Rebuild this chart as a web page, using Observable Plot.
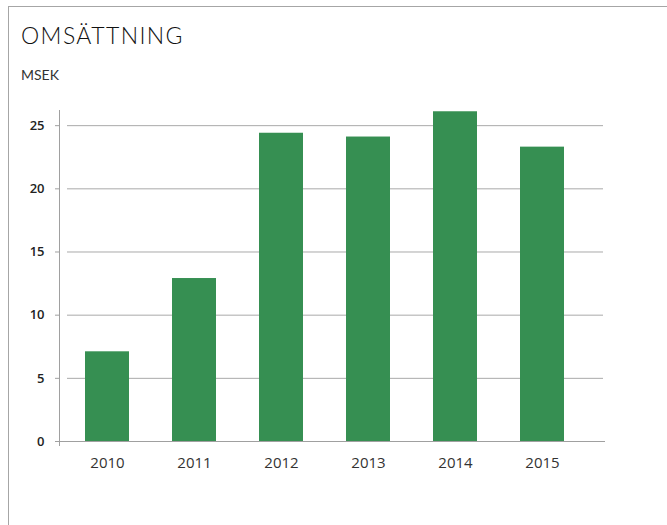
<!DOCTYPE html>
<html><head><meta charset="utf-8">
<script src="https://cdn.jsdelivr.net/npm/d3@7"></script>
<script src="https://cdn.jsdelivr.net/npm/@observablehq/plot@0.6"></script>
<style>
html,body{margin:0;padding:0;background:#fff}
body{width:667px;height:525px;overflow:hidden;position:relative;font-family:Lato,sans-serif}
#frame{position:absolute;left:8px;top:6px;right:-2px;bottom:-2px;border-left:1px solid #a6a6a6;border-top:1px solid #a6a6a6}
#title{position:absolute;left:21px;top:24px;font-size:23px;font-weight:300;letter-spacing:1.4px;line-height:1;color:#111;white-space:nowrap}
#sub{position:absolute;left:21px;top:68px;font-size:14px;font-weight:400;line-height:1;color:#333;white-space:nowrap}
#chart{position:absolute;left:0;top:90px}
</style></head>
<body>
<div id="frame"></div>
<div id="title">OMSÄTTNING</div>
<div id="sub">MSEK</div>
<div id="chart"></div>
<script>
const years = ["2010", "2011", "2012", "2013", "2014", "2015"];
const values = [7.1, 12.9, 24.4, 24.1, 26.1, 23.3];
const yTicks = [0, 5, 10, 15, 20, 25];

const data = years.map((year, i) => ({year, value: values[i]}));

const chart = Plot.plot({
  width: 667,
  height: 435,
  marginLeft: 59,
  marginRight: 64,
  marginTop: 20,
  marginBottom: 84,
  style: {background: "transparent", fontFamily: "'Open Sans', sans-serif", overflow: "visible"},
  x: {domain: years, insetLeft: 3.8, insetRight: 18, paddingInner: 0.5, paddingOuter: 0.25, label: null},
  y: {domain: [0, 26.2], label: null},
  marks: [
    Plot.ruleY(yTicks.filter(d => d > 0), {insetLeft: 8, stroke: "#a9a9a9", strokeWidth: 1}),
    Plot.barY(data, {x: "year", y: "value", fill: "#368f52"}),
    Plot.ruleY([0], {stroke: "#a0a0a0", insetRight: -2}),
    Plot.frame({anchor: "left", stroke: "#a0a0a0", insetBottom: -4}),
    Plot.axisY({ticks: yTicks, tickSize: 4, tickPadding: 11, tickFormat: d => d, fontSize: 13, fontWeight: 600, stroke: "#a0a0a0", fill: "#222", label: null}),
    Plot.axisX({tickSize: 0, tickPadding: 16, fontSize: 15, fill: "#333", label: null})
  ]
});
document.getElementById("chart").appendChild(chart);
</script>
</body></html>
